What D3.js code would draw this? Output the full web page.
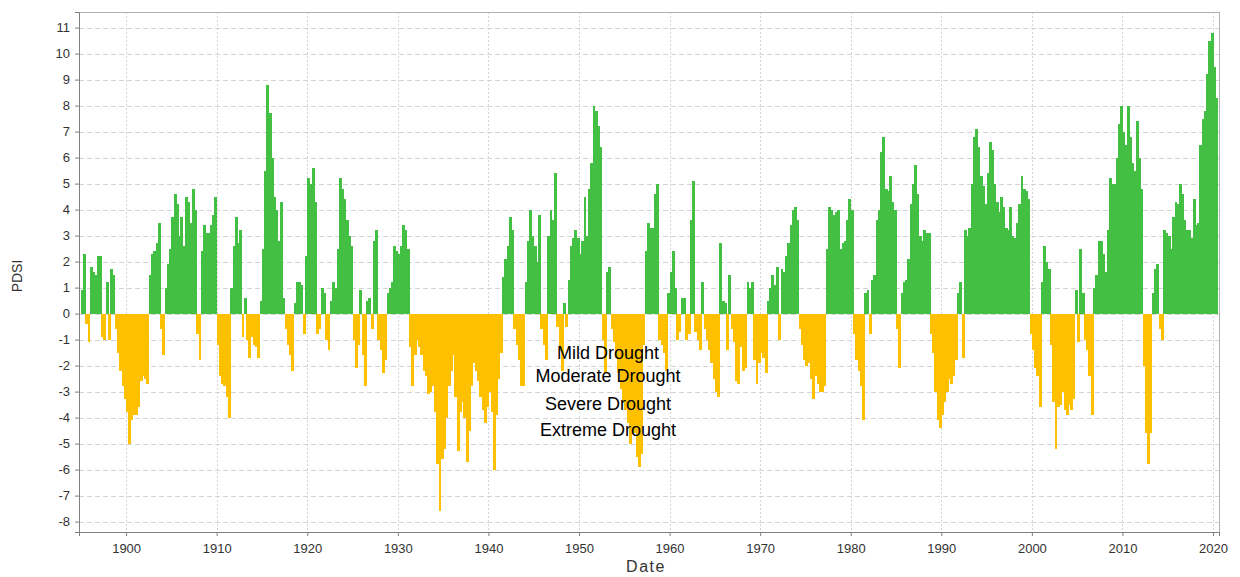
<!DOCTYPE html>
<html>
<head>
  <meta charset="utf-8">
  <title>PDSI</title>
  <style>
    body { margin: 0; background: #fff; }
    text { font-family: "Liberation Sans", Arial, sans-serif; }
  </style>
</head>
<body>
<svg width="1240" height="577"></svg>
<script src="https://d3js.org/d3.v7.min.js"></script>
<script>

  // quarterly PDSI values (4 per year)
  var startYear = 1895
  var pdsi1890s = [0.9, 2.3, -0.4, -1.1, 1.8, 1.6, 1.5, 2.2, 2.2, -0.9, -1.0, 1.2, -1.0, 1.7, 1.5, -0.6,
    -1.5, -2.2, -2.8, -3.3]
  var pdsi1900s = [-3.8, -5.0, -4.1, -3.9, -3.9, -3.6, -2.6, -2.4, -2.5, -2.7, 1.5, 2.3, 2.4, 2.7, 3.5, -0.6,
    -1.6, 1.0, 1.9, 2.5, 3.7, 4.6, 4.2, 3.0, 3.7, 2.6, 4.5, 4.3, 3.5, 4.8, 4.0, -0.8,
    -1.8, 2.4, 3.4, 3.1, 3.1, 3.4, 3.8, 4.5]
  var pdsi1910s = [-1.2, -2.4, -2.7, -2.8, -3.2, -4.0, 1.0, 2.6, 3.7, 2.7, 3.2, -0.9, 0.6, -1.0, -1.7, -0.9,
    -1.2, -1.3, -1.7, 0.5, 2.5, 5.5, 8.8, 7.7, 6.0, 4.5, 4.0, 2.8, 4.3, 0.6, -0.6, -1.2,
    -1.6, -2.2, 0.4, 1.2, 1.2, 1.1, -0.8, 2.2]
  var pdsi1920s = [5.2, 5.0, 5.6, 4.3, -0.8, -0.6, 1.0, 0.8, -1.0, -1.4, 0.5, 1.2, 1.0, 2.5, 5.2, 4.8,
    4.4, 3.6, 3.0, 2.6, -1.0, -2.1, -1.2, 0.9, -1.6, -2.8, 0.5, 0.6, -0.6, 2.8, 3.2, -1.0,
    -1.4, -2.3, -1.8, 0.8, 1.0, 1.2, 2.6, 2.4]
  var pdsi1930s = [2.3, 2.6, 3.4, 3.2, 2.5, -1.3, -2.8, -1.6, -1.0, -1.3, -1.6, -2.2, -2.4, -3.1, -3.0, -2.8,
    -3.8, -5.8, -7.6, -5.6, -5.2, -4.0, -2.8, -2.2, -1.6, -3.2, -5.3, -3.8, -3.4, -4.0, -5.7, -4.5,
    -2.8, -1.9, -2.2, -2.6, -3.2, -3.7, -4.2, -3.6]
  var pdsi1940s = [-3.0, -3.8, -6.0, -3.9, -2.5, -1.5, 1.4, 2.1, 2.6, 3.7, 3.2, -0.6, -1.2, -1.8, -2.8, -2.8,
    1.2, 2.8, 4.0, 3.0, 2.6, 2.0, 3.8, -0.6, -1.2, -1.8, 3.0, 4.0, 3.6, 5.4, -0.5, -1.3,
    -2.2, 0.4, -0.5, 1.3, 2.6, 2.9, 3.2, 2.9]
  var pdsi1950s = [2.3, 2.8, 4.5, 3.0, 4.8, 5.8, 8.0, 7.8, 7.2, 6.4, -1.0, -2.3, 1.6, 1.8, -0.6, -1.1,
    -1.7, -2.3, -2.9, -3.4, -3.7, -4.2, -5.0, -4.4, -4.6, -5.5, -5.9, -5.4, -1.2, 2.4, 3.5, 3.3,
    3.3, 4.6, 5.0, -1.0, -1.2, -1.5, -2.2, 0.8]
  var pdsi1960s = [1.6, 2.4, 1.0, -1.0, -0.7, 0.6, 0.6, -1.0, -0.8, 3.6, 5.1, -0.7, -1.0, -1.4, 1.2, -0.6,
    -1.0, -1.4, -1.9, -2.5, -3.0, -3.2, 2.7, 0.5, 0.4, -1.4, 1.5, -0.6, -1.1, -2.6, -2.7, -1.3,
    -2.2, -2.1, 1.2, 1.0, 1.2, -1.8, -2.7, -1.9]
  var pdsi1970s = [-1.5, -1.7, -2.3, 0.5, 1.0, 1.5, 1.1, 1.8, -1.0, 1.7, 1.6, 2.2, 2.7, 3.4, 4.0, 4.1,
    3.6, -0.6, -1.2, -1.8, -2.0, -1.9, -2.5, -3.3, -2.4, -2.7, -3.0, -3.0, -2.8, 2.5, 4.1, 4.0,
    3.8, 3.9, 4.0, 2.5, 2.7, 2.8, 3.6, 4.4]
  var pdsi1980s = [4.0, -0.8, -1.8, -2.2, -2.8, -4.1, 0.8, 0.9, -0.8, 1.3, 1.5, 3.6, 4.0, 6.2, 6.8, 4.8,
    4.7, 5.3, 4.3, 4.0, -0.6, -2.1, 0.8, 1.2, 1.3, 2.1, 4.2, 5.0, 5.7, 4.6, 3.0, 2.8,
    3.2, 3.1, 3.1, -0.8, -1.5, -3.0, -4.1, -4.4]
  var pdsi1990s = [-3.9, -3.4, -3.0, -2.5, -2.7, -2.4, -1.8, 0.8, 1.2, -1.7, 3.2, 3.0, 3.3, 5.0, 6.8, 7.1,
    6.4, 5.3, 4.9, 4.2, 5.4, 6.6, 6.3, 5.0, 4.3, 3.9, 4.5, 4.1, 3.3, 3.2, 4.1, 3.0,
    2.9, 3.5, 4.2, 5.3, 4.8, 4.7, 4.4, -0.8]
  var pdsi2000s = [-1.4, -2.1, -2.4, -3.6, 1.2, 2.6, 2.0, 1.7, -1.2, -3.4, -5.2, -3.6, -3.5, -3.0, -3.7, -3.9,
    -3.5, -3.7, -3.3, 0.9, -1.1, 2.5, 0.8, -1.0, -1.4, -2.4, -3.9, 1.0, 1.5, 2.8, 2.8, 2.3,
    1.6, 3.2, 5.2, 5.0, 5.0, 6.0, 7.3, 8.0]
  var pdsi2010s = [7.0, 6.5, 8.0, 6.8, 5.8, 5.5, 7.4, 6.0, 4.8, -2.0, -4.6, -5.8, -4.6, 0.8, 1.7, 1.9,
    -0.6, -1.0, 3.2, 3.1, 3.0, 2.5, 3.7, 4.3, 4.2, 5.0, 4.6, 3.6, 3.2, 3.2, 2.9, 4.4,
    3.4, 3.5, 6.5, 7.5, 7.8, 9.2, 10.5, 10.8]
  var pdsi2020s = [9.5, 8.3]

  var yearTicks = [1900, 1910, 1920, 1930, 1940, 1950, 1960, 1970, 1980, 1990, 2000, 2010, 2020]
  var pdsiTicks = [-8, -7, -6, -5, -4, -3, -2, -1, 0, 1, 2, 3, 4, 5, 6, 7, 8, 9, 10, 11]
  var droughtLabels = ['Mild Drought', 'Moderate Drought', 'Severe Drought', 'Extreme Drought']
  var droughtLabelY = [353, 376, 404, 430]

  var values = [].concat(pdsi1890s, pdsi1900s, pdsi1910s, pdsi1920s, pdsi1930s, pdsi1940s,
    pdsi1950s, pdsi1960s, pdsi1970s, pdsi1980s, pdsi1990s, pdsi2000s, pdsi2010s, pdsi2020s)
  var data = values.map(function (v, i) {
    return {t: startYear + i / 4, value: v}
  })

  var svg = d3.select('svg')
  var plotLeft = 79, plotRight = 1219, plotTop = 12, plotBottom = 532

  var x = d3.scaleLinear().domain([1894.8, 2020.66]).range([plotLeft, plotRight])
  var y = d3.scaleLinear().domain([-8.4, 11.6]).range([plotBottom, plotTop])

  // grid
  svg.append('g').selectAll('line').data(pdsiTicks).enter().append('line')
    .attr('x1', plotLeft).attr('x2', plotRight)
    .attr('y1', function (d) { return Math.round(y(d)) + 0.5 })
    .attr('y2', function (d) { return Math.round(y(d)) + 0.5 })
    .attr('stroke', '#d4d4d4').attr('stroke-dasharray', '5,3')

  svg.append('g').selectAll('line').data(yearTicks).enter().append('line')
    .attr('x1', function (d) { return Math.round(x(d)) + 0.5 })
    .attr('x2', function (d) { return Math.round(x(d)) + 0.5 })
    .attr('y1', plotTop).attr('y2', plotBottom)
    .attr('stroke', '#d4d4d4').attr('stroke-dasharray', '2,2')

  // bars
  var step = x(1) - x(0)
  svg.append('g').attr('shape-rendering', 'crispEdges')
    .selectAll('rect').data(data).enter().append('rect')
    .attr('x', function (d) { return x(d.t) })
    .attr('width', step / 4 + 0.6)
    .attr('y', function (d) { return d.value >= 0 ? y(d.value) : y(0) })
    .attr('height', function (d) { return Math.abs(y(d.value) - y(0)) })
    .attr('fill', function (d) { return d.value >= 0 ? '#43bf43' : '#ffc000' })

  // frame
  svg.append('rect')
    .attr('x', plotLeft + 0.5).attr('y', plotTop + 0.5)
    .attr('width', plotRight - plotLeft).attr('height', plotBottom - plotTop)
    .attr('fill', 'none').attr('stroke', '#b0b0b0')

  var xAxis = svg.append('g')
    .attr('transform', 'translate(0,' + plotBottom + ')')
    .call(d3.axisBottom(x).tickValues(yearTicks).tickFormat(function (d) { return String(d) })
      .tickSizeOuter(0).tickSize(4))
  var yAxis = svg.append('g')
    .attr('transform', 'translate(' + plotLeft + ',0)')
    .call(d3.axisLeft(y).tickValues(pdsiTicks).tickFormat(function (d) { return String(d) })
      .tickSizeOuter(0).tickSize(4))

  ;[xAxis, yAxis].forEach(function (a) {
    a.select('.domain').attr('stroke', '#808080')
    a.selectAll('.tick line').attr('stroke', '#808080')
    a.selectAll('.tick text').attr('fill', '#333').style('font-size', '13px')
  })
  xAxis.selectAll('.tick text').attr('dy', '1.1em')
  yAxis.selectAll('.tick text').attr('x', -9)

  svg.append('text')
    .attr('x', 646).attr('y', 572)
    .attr('text-anchor', 'middle')
    .attr('fill', '#333').style('font-size', '16px').style('letter-spacing', '1.5px')
    .text('Date')

  svg.append('text')
    .attr('transform', 'translate(22,276) rotate(-90)')
    .attr('text-anchor', 'middle')
    .attr('fill', '#333').style('font-size', '14px')
    .text('PDSI')

  svg.append('g').selectAll('text').data(droughtLabels).enter().append('text')
    .attr('x', 608)
    .attr('y', function (d, i) { return droughtLabelY[i] + 6 })
    .attr('text-anchor', 'middle')
    .attr('fill', '#000').style('font-size', '18px')
    .text(function (d) { return d })

</script>
</body>
</html>
